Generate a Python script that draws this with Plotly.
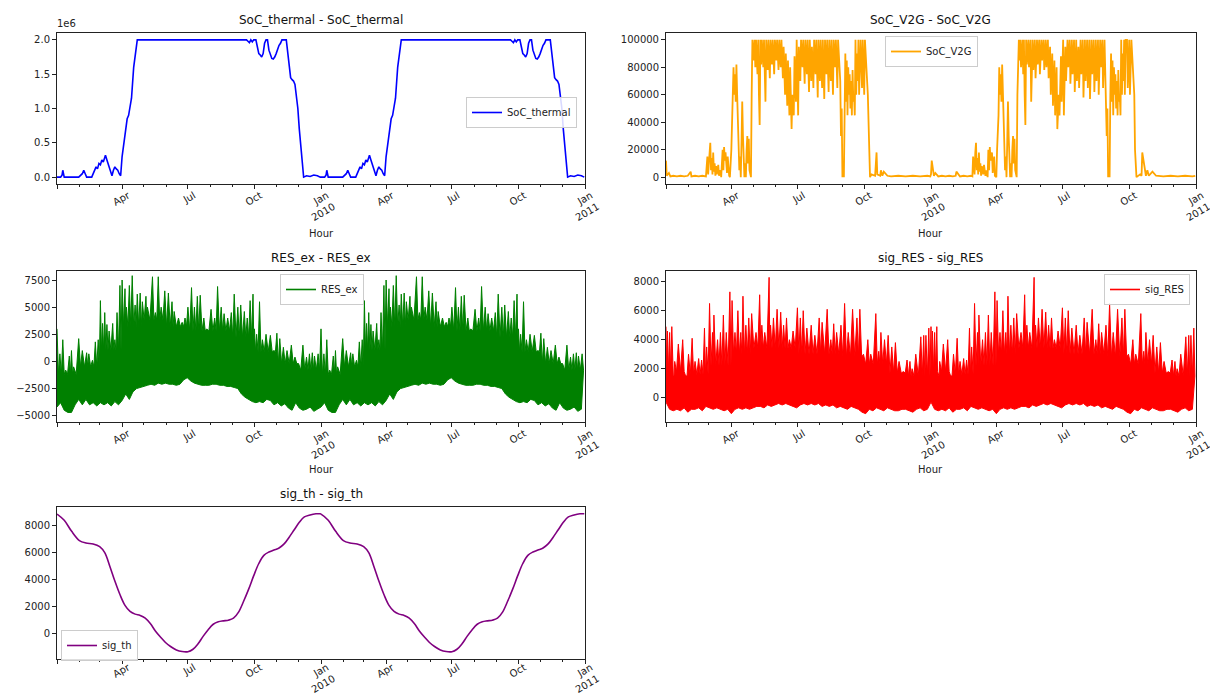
import pandas as pd
import plotly.graph_objects as go

# ---------------- data (one year, the second year repeats it) ----------------
thermal_days = [0, 5, 7, 8, 10, 20, 30, 35, 37, 39, 41, 48, 52, 54, 56, 58, 60, 62, 64, 67, 69, 71, 73, 76,
                78, 80, 82, 84, 86, 88, 90, 92, 94, 97, 99, 101, 103, 106, 108, 111, 255, 262, 264, 266,
                268, 270, 272, 275, 277, 279, 281, 283, 285, 287, 289, 291, 293, 295, 297, 299, 301, 303,
                305, 307, 309, 311, 317, 319, 321, 323, 325, 327, 329, 331, 333, 335, 337, 339, 341, 345,
                350, 355, 360, 364]
thermal_vals = [0, 0, 0.03, 0.1, 0, 0, 0, 0.05, 0.1, 0.05, 0, 0, 0.1, 0.15, 0.12, 0.2, 0.18, 0.25, 0.22,
                0.32, 0.25, 0.18, 0.1, 0.02, 0.1, 0.15, 0.12, 0.1, 0.05, 0.02, 0.3, 0.45, 0.6, 0.85, 0.9,
                1.05, 1.15, 1.6, 1.8, 2.0, 2.0, 2.0, 1.98, 1.96, 2.0, 1.97, 2.0, 2.0, 1.9, 1.8, 1.78, 1.75,
                1.8, 1.95, 2.0, 2.0, 1.85, 1.78, 1.73, 1.72, 1.75, 1.8, 1.88, 1.92, 1.95, 2.0, 2.0, 1.8,
                1.55, 1.45, 1.42, 1.4, 1.35, 1.2, 1.0, 0.7, 0.45, 0.15, 0, 0.02, 0.01, 0.03, 0.02, 0]

v2g_days = [0, 1, 4, 6, 10, 15, 20, 25, 30, 34, 35, 40, 45, 50, 55, 57, 58, 60, 61, 62, 63, 64, 65, 66, 67,
            68, 69, 70, 72, 73, 75, 76, 78, 79, 80, 81, 82, 84, 85, 87, 88, 90, 91, 93, 94, 95, 96, 97, 98,
            99, 100, 101, 102, 103, 104, 105, 106, 107, 108, 109, 110, 111, 112, 113, 114, 115, 116, 117,
            118, 119, 121, 122, 123, 124, 126, 127, 128, 129, 130, 131, 132, 134, 135, 137, 138, 140, 141,
            143, 144, 146, 147, 149, 150, 152, 153, 155, 156, 158, 159, 161, 162, 164, 165, 167, 168, 170,
            171, 173, 174, 176, 177, 179, 180, 182, 183, 185, 186, 188, 189, 191, 192, 194, 195, 197, 198,
            200, 201, 203, 204, 206, 207, 209, 210, 212, 213, 215, 216, 218, 219, 221, 222, 224, 225, 227,
            228, 230, 231, 233, 234, 236, 237, 239, 240, 241, 242, 243, 244, 245, 246, 247, 248, 249, 250,
            251, 252, 253, 254, 255, 256, 257, 258, 259, 260, 261, 262, 263, 264, 265, 266, 267, 268, 270,
            271, 273, 274, 276, 278, 280, 281, 283, 288, 290, 291, 295, 296, 298, 300, 305, 310, 320, 330,
            340, 350, 360, 364]
v2g_vals_k = [12, 1, 3, 0.5, 1, 0.5, 1, 0.5, 1, 4, 0.5, 1, 0.5, 1, 0.5, 15, 2, 18, 25, 5, 14, 2, 18, 4,
              10, 1, 8, 2, 9, 1, 5, 0, 20, 5, 22, 12, 18, 3, 15, 1, 0, 20, 45, 80, 60, 75, 55, 82, 60, 40,
              20, 5, 15, 0, 25, 55, 30, 15, 0, 10, 0, 20, 30, 10, 28, 5, 0, 0, 60, 100, 85, 100, 80, 100,
              75, 100, 60, 38, 100, 82, 100, 80, 100, 55, 100, 78, 100, 72, 100, 82, 100, 75, 100, 85, 100,
              78, 100, 80, 100, 72, 95, 60, 90, 52, 85, 45, 80, 35, 60, 45, 88, 55, 100, 45, 95, 70, 100,
              80, 100, 68, 100, 75, 100, 62, 100, 70, 95, 65, 100, 75, 100, 58, 100, 70, 100, 65, 100, 57,
              100, 75, 100, 62, 100, 70, 100, 60, 100, 80, 100, 65, 100, 75, 70, 30, 50, 0, 5, 0, 60, 90,
              55, 85, 45, 80, 60, 75, 50, 70, 45, 78, 55, 60, 45, 100, 60, 90, 70, 100, 60, 100, 100, 65,
              100, 60, 100, 80, 60, 20, 0, 2, 1, 18, 2, 1, 5, 1, 4, 1, 0.5, 1, 0.5, 1, 0.5, 1, 0.5, 2]

# RES_ex: spike peaks along the top edge, the solid level between spikes (per month), and the lower edge
res_top_days = [0, 4, 8, 12, 17, 20, 23, 30, 35, 41, 44, 49, 53, 57, 60, 63, 66, 69, 72, 77, 80, 83, 87,
                90, 94, 96, 100, 104, 108, 111, 115, 118, 123, 125, 132, 136, 140, 144, 149, 154, 159, 162,
                168, 173, 177, 181, 186, 190, 194, 198, 203, 207, 213, 218, 222, 227, 231, 236, 241, 245,
                250, 254, 259, 263, 267, 271, 273, 276, 280, 284, 289, 295, 300, 304, 308, 313, 318, 324,
                329, 334, 340, 345, 349, 353, 356, 361]
res_top_vals = [3000, 700, 2000, -800, 500, 1000, -500, 2100, 1000, 800, 700, 100, 1800, 2000, 5600, 3500,
                4500, 3400, 2800, 3500, 2000, 4500, 7000, 7500, 6700, 5000, 7000, 7900, 5200, 6200, 6300,
                5500, 6000, 5000, 7800, 4500, 7800, 5000, 6500, 6300, 5500, 4600, 4000, 3600, 4000, 5000,
                6800, 5000, 6000, 6100, 4000, 3000, 4800, 4000, 6900, 5000, 4400, 4000, 4500, 6200, 5000,
                5200, 4600, 4000, 5600, 6200, 3000, 2500, 5500, 2000, 2500, 2400, 1000, 2600, 2100, 1300,
                1000, 1500, 400, -200, 1500, 400, 700, 800, 500, 700]
res_base_month = [-1200, -500, 1000, 3200, 3800, 3200, 2800, 2800, 2200, 900, -200, -800]
res_bot_days = [0, 5, 10, 15, 20, 25, 30, 35, 40, 45, 50, 55, 60, 65, 70, 75, 80, 85, 90, 95, 100, 105,
                110, 115, 120, 125, 130, 135, 140, 145, 150, 155, 160, 165, 170, 175, 180, 185, 190, 195,
                200, 205, 210, 215, 220, 225, 230, 235, 240, 245, 250, 255, 260, 265, 270, 275, 280, 285,
                290, 295, 300, 305, 310, 315, 320, 325, 330, 335, 340, 345, 350, 355, 360]
res_bot_vals = [-4200, -3800, -4500, -4700, -4700, -4000, -3500, -4000, -3500, -4000, -3800, -4100, -3800,
                -4000, -3800, -4100, -3700, -4000, -3600, -3000, -3500, -2800, -2500, -2400, -2300, -2200,
                -2100, -2200, -2000, -2100, -2000, -2100, -2100, -2200, -2100, -1700, -1500, -1800, -2000,
                -2100, -2200, -2200, -2200, -2100, -2100, -2200, -2200, -2300, -2300, -2400, -2500, -3000,
                -3300, -3500, -3700, -3800, -3700, -3800, -3500, -3600, -4000, -3800, -4100, -3900, -4300,
                -4500, -3800, -4300, -4500, -4400, -4200, -4600, -4400]

sres_top_days = [0, 2, 5, 8, 10, 12, 17, 23, 27, 31, 36, 40, 45, 49, 53, 56, 60, 64, 66, 71, 75, 79, 83,
                 88, 91, 95, 99, 103, 106, 110, 114, 118, 124, 129, 132, 136, 142, 144, 148, 153, 158, 162,
                 166, 170, 175, 181, 185, 189, 194, 200, 205, 211, 215, 222, 227, 231, 235, 241, 246, 251,
                 257, 263, 267, 272, 278, 282, 289, 293, 296, 301, 306, 311, 316, 321, 327, 332, 336, 339,
                 344, 351, 355, 358, 362]
sres_top_vals = [4900, 4600, 4500, 4900, 1500, 2500, 3700, 4000, 1500, 3000, 4100, 2500, 2700, 2600, 4800,
                 3500, 6500, 4500, 5700, 4000, 4500, 5700, 4500, 7300, 6700, 4500, 6000, 4500, 7000, 5000,
                 5500, 5800, 4500, 7100, 5000, 4500, 8300, 5000, 5500, 6100, 5900, 5000, 5500, 4000, 4600,
                 6200, 5500, 6000, 4800, 5000, 4300, 5500, 5200, 6100, 4000, 5100, 4500, 5000, 6500, 4500,
                 6100, 5500, 6100, 3000, 4000, 3000, 5800, 3200, 4500, 4000, 4300, 3500, 3800, 2500, 1800,
                 2600, 2500, 2000, 3000, 4200, 4300, 4300, 4800]
sres_base_month = [1800, 1600, 2200, 3000, 3400, 3400, 3000, 3000, 2800, 2300, 1700, 1500]
sres_bot_days = res_bot_days
sres_bot_vals = [-300, -800, -900, -800, -900, -700, -1000, -800, -800, -700, -900, -600, -700, -800, -700,
                 -800, -900, -800, -1100, -800, -700, -800, -700, -800, -700, -600, -600, -700, -500, -600,
                 -500, -400, -500, -400, -500, -600, -700, -500, -400, -500, -400, -500, -400, -600, -500,
                 -600, -500, -700, -600, -700, -800, -600, -700, -800, -1000, -1100, -800, -900, -700, -800,
                 -900, -700, -800, -900, -900, -800, -800, -900, -1000, -800, -700, -900, -800]

th_days = [0, 10, 20, 31, 40, 50, 59, 66, 73, 80, 87, 94, 101, 108, 115, 122, 129, 136, 143, 150, 157,
           165, 173, 181, 188, 195, 202, 209, 216, 223, 230, 237, 244, 251, 258, 265, 272, 279, 286, 293,
           300, 307, 314, 321, 328, 335, 342, 350, 358, 364]
th_vals = [8860, 8400, 7600, 6900, 6720, 6650, 6450, 6000, 5000, 3900, 2900, 2100, 1650, 1450, 1350, 1150,
           750, 200, -250, -650, -950, -1200, -1320, -1330, -1150, -750, -200, 300, 700, 880, 950, 1000,
           1150, 1600, 2400, 3300, 4300, 5200, 5800, 6050, 6200, 6350, 6650, 7150, 7700, 8250, 8650, 8800,
           8880, 8880]

START = pd.Timestamp("2009-01-01")
END = pd.Timestamp("2011-01-01")


def two_years(days, vals):
    xs = [START + pd.Timedelta(days=d + 365 * k) for k in (0, 1) for d in days]
    ys = list(vals) + list(vals)
    return xs, ys


def spiky_top(days, peaks, base_month):
    """Top edge: each read spike peak followed by the solid band level of its month."""
    d_out, v_out = [], []
    for j, (d, v) in enumerate(zip(days, peaks)):
        d_out.append(d)
        v_out.append(v)
        nxt = days[j + 1] if j + 1 < len(days) else 365
        mid = (d + nxt) / 2
        month = min(int((START + pd.Timedelta(days=mid)).month) - 1, 11)
        d_out.append(mid)
        v_out.append(min(base_month[month], v))
    return d_out, v_out


FONT = "DejaVu Sans"
# the page has an 8px body margin: the figure is drawn from (8, 8) of the window
OFF = 8
W, H = 1218 - OFF, 696 - OFF
INK = "#222222"


def px(xp):
    return (xp - OFF) / W


def py(yp):
    return 1 - (yp - OFF) / H


fig = go.Figure()

cols = {1: (57, 585), 2: (666, 1196)}
rows = {1: (33, 184), 2: (271, 422), 3: (507, 659)}
panels = [
    dict(i=1, c=1, r=1, name="SoC_thermal", yr=[-1e5, 2.1e6]),
    dict(i=2, c=2, r=1, name="SoC_V2G", yr=[-5000, 105000]),
    dict(i=3, c=1, r=2, name="RES_ex", yr=[-5580, 8330]),
    dict(i=4, c=2, r=2, name="sig_RES", yr=[-1676, 8738]),
    dict(i=5, c=1, r=3, name="sig_th", yr=[-1874, 9385]),
]

x, y = two_years(thermal_days, [v * 1e6 for v in thermal_vals])
fig.add_trace(go.Scatter(x=x, y=y, mode="lines", line=dict(color="#0000FF", width=1.6),
                         name="SoC_thermal", xaxis="x", yaxis="y", legend="legend"))
x, y = two_years(v2g_days, [v * 1000 for v in v2g_vals_k])
fig.add_trace(go.Scatter(x=x, y=y, mode="lines", line=dict(color="#FFA500", width=1.8),
                         name="SoC_V2G", xaxis="x2", yaxis="y2", legend="legend2"))


def band(top_d, top_v, base_m, bot_d, bot_v, color, name, ax, leg):
    td, tv = spiky_top(top_d, top_v, base_m)
    xt, yt = two_years(td, tv)
    xb, yb = two_years(bot_d, bot_v)
    fig.add_trace(go.Scatter(x=xt + xb[::-1], y=yt + yb[::-1], mode="lines", fill="toself",
                             fillcolor=color, line=dict(color=color, width=1),
                             showlegend=False, hoverinfo="skip", xaxis="x" + ax, yaxis="y" + ax))
    fig.add_trace(go.Scatter(x=[None], y=[None], mode="lines", line=dict(color=color, width=1.6),
                             name=name, xaxis="x" + ax, yaxis="y" + ax, legend=leg))


band(res_top_days, res_top_vals, res_base_month, res_bot_days, res_bot_vals,
     "#008000", "RES_ex", "3", "legend3")
band(sres_top_days, sres_top_vals, sres_base_month, sres_bot_days, sres_bot_vals,
     "#FF0000", "sig_RES", "4", "legend4")

x, y = two_years(th_days, th_vals)
fig.add_trace(go.Scatter(x=x, y=y, mode="lines", line=dict(color="#800080", width=1.6, shape="spline"),
                         name="sig_th", xaxis="x5", yaxis="y5", legend="legend5"))

tick_dates = ["2009-01-01", "2009-04-01", "2009-07-01", "2009-10-01", "2010-01-01",
              "2010-04-01", "2010-07-01", "2010-10-01", "2011-01-01"]
tick_text = ["", "Apr", "Jul", "Oct", "Jan<br>2010", "Apr", "Jul", "Oct", "Jan<br>2011"]

ytick_defs = {
    1: ([0, 5e5, 1e6, 1.5e6, 2e6], ["0.0", "0.5", "1.0", "1.5", "2.0"]),
    2: ([0, 20000, 40000, 60000, 80000, 100000], ["0", "20000", "40000", "60000", "80000", "100000"]),
    3: ([-5000, -2500, 0, 2500, 5000, 7500], ["\u22125000", "\u22122500", "0", "2500", "5000", "7500"]),
    4: ([0, 2000, 4000, 6000, 8000], ["0", "2000", "4000", "6000", "8000"]),
    5: ([0, 2000, 4000, 6000, 8000], ["0", "2000", "4000", "6000", "8000"]),
}

layout = dict(width=W, height=H, margin=dict(l=0, r=0, t=0, b=0, autoexpand=False),
              paper_bgcolor="white", plot_bgcolor="white",
              font=dict(family=FONT, size=10, color=INK), showlegend=True, annotations=[])

for p in panels:
    i = p["i"]
    x0, x1 = cols[p["c"]]
    y0, y1 = rows[p["r"]]
    sx = "" if i == 1 else str(i)
    layout["xaxis" + sx] = dict(
        domain=[px(x0), px(x1)], anchor="y" + sx, type="date", automargin=False,
        range=[START, END], tickvals=tick_dates, ticktext=tick_text, tickangle=-30,
        ticklabelshift=6, ticklabelstandoff=-3 if p["r"] < 3 else -6,
        ticks="outside", ticklen=4, tickwidth=1, tickcolor=INK,
        minor=dict(ticks="outside", ticklen=2, dtick="M1", tick0="2009-01-01", tickcolor=INK),
        showline=True, linecolor=INK, linewidth=1, mirror=True, showgrid=False, zeroline=False,
        tickfont=dict(family=FONT, size=10, color=INK), fixedrange=True,
    )
    tv, tt = ytick_defs[i]
    layout["yaxis" + sx] = dict(
        domain=[py(y1), py(y0)], anchor="x" + sx, range=p["yr"], automargin=False,
        tickvals=tv, ticktext=tt, ticks="outside", ticklen=4, tickwidth=1, tickcolor=INK,
        showline=True, linecolor=INK, linewidth=1, mirror=True, showgrid=False, zeroline=False,
        tickfont=dict(family=FONT, size=10, color=INK), fixedrange=True,
    )
    layout["annotations"].append(dict(
        text=f"{p['name']} - {p['name']}", x=px((x0 + x1) / 2), y=py(y0 - 4),
        xref="paper", yref="paper", xanchor="center", yanchor="bottom", showarrow=False,
        font=dict(family=FONT, size=12, color="#111111")))
    if p["r"] < 3:
        layout["annotations"].append(dict(
            text="Hour", x=px((x0 + x1) / 2), y=py(233) if p["r"] == 1 else py(469),
            xref="paper", yref="paper", xanchor="center", yanchor="middle", showarrow=False,
            font=dict(family=FONT, size=10, color=INK)))

layout["annotations"].append(dict(text="1e6", x=px(55), y=py(31), xref="paper", yref="paper",
                                  xanchor="left", yanchor="bottom", showarrow=False,
                                  font=dict(family=FONT, size=10, color=INK)))

leg_common = dict(font=dict(family=FONT, size=10, color=INK), bgcolor="rgba(255,255,255,0.85)",
                  bordercolor="#cccccc", borderwidth=1, itemwidth=30, xanchor="left", yanchor="top")
leg_pos = {"legend": (466, 97), "legend2": (885, 36), "legend3": (280, 274),
           "legend4": (1104, 274), "legend5": (61, 630)}
for k, (lx, ly) in leg_pos.items():
    layout[k] = dict(leg_common, x=px(lx), y=py(ly))

fig.update_layout(**layout)
fig.write_html("out.html")
